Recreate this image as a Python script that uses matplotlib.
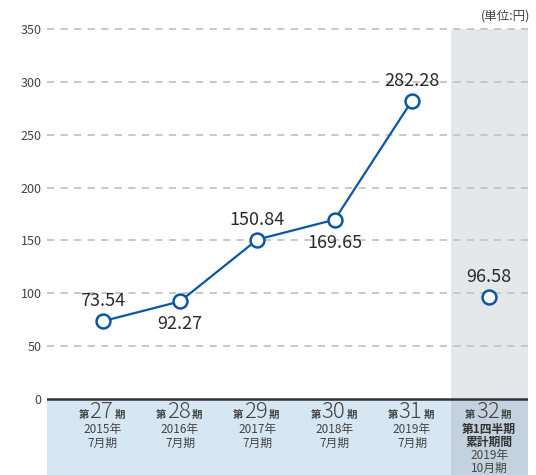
import matplotlib
matplotlib.use('Agg')
import matplotlib.pyplot as plt

plt.rcParams['font.family'] = ['Noto Sans CJK JP', 'DejaVu Sans']

# データ
periods = ['27', '28', '29', '30', '31', '32']
sub_labels = [['2015年', '7月期'], ['2016年', '7月期'], ['2017年', '7月期'],
              ['2018年', '7月期'], ['2019年', '7月期']]
last_bold = ['第1四半期', '累計期間']
last_sub = ['2019年', '10月期']
values = [73.54, 92.27, 150.84, 169.65, 282.28]
q_value = 96.58
label_above = [True, False, True, False, True]
yticks = [0, 50, 100, 150, 200, 250, 300, 350]

BLUE = '#0a57a4'
TXT = '#2a2a2a'
GREY = '#444444'
PT = 0.72  # px -> pt

fig = plt.figure(figsize=(5.36, 4.75), dpi=100)
ax = fig.add_axes([47 / 536, 0, 481 / 536, (475 - 27) / 475])
ymin, ymax = -72, 352
ax.set_ylim(ymin, ymax)
ax.set_xlim(-0.72, 5.5)

# 背景の帯
ax.fill_between([4.5, 5.5], 0, 350, color='#e6e7e9', zorder=0, lw=0)
ax.fill_between([-0.72, 4.5], ymin, 0, color='#d6e6f3', zorder=0, lw=0)
ax.fill_between([4.5, 5.5], ymin, 0, color='#c3d2de', zorder=0, lw=0)

# グリッド
for y in yticks[1:]:
    ax.axhline(y, color='#c4c4c4', lw=1.3, dashes=(4, 3.5), zorder=1)
ax.axhline(0, color='#333333', lw=1.8, zorder=3)

for s in ax.spines.values():
    s.set_visible(False)
ax.set_xticks([])
ax.set_yticks(yticks)
ax.tick_params(axis='y', length=0, pad=4, labelsize=9, labelcolor=GREY)

# 折れ線
xs = list(range(len(values)))
ax.plot(xs, values, color=BLUE, lw=1.6, marker='o', ms=10,
        mfc='white', mec=BLUE, mew=1.8, zorder=4)
ax.plot([5], [q_value], ls='none', marker='o', ms=10,
        mfc='white', mec=BLUE, mew=1.8, zorder=4)

for x, v, up in zip(xs, values, label_above):
    off = 20 * PT if up else -23 * PT
    ax.annotate(f'{v:.2f}', (x, v), xytext=(0, off), textcoords='offset points',
                ha='center', va='center', fontsize=13, color=TXT)
ax.annotate(f'{q_value:.2f}', (5, q_value), xytext=(0, 20 * PT), textcoords='offset points',
            ha='center', va='center', fontsize=13, color=TXT)

# 下部ラベル
base = -19 * PT
for i, p in enumerate(periods):
    ax.annotate(p, (i, 0), xytext=(-1, base), textcoords='offset points',
                ha='center', va='baseline', fontsize=16, color=GREY, fontweight='light')
    ax.annotate('第', (i, 0), xytext=(-10, base), textcoords='offset points',
                ha='right', va='baseline', fontsize=7.5, color=GREY, fontweight='bold')
    ax.annotate('期', (i, 0), xytext=(8.5, base), textcoords='offset points',
                ha='left', va='baseline', fontsize=7.5, color=GREY, fontweight='bold')

rows = [-31, -44, -57, -69]
for i, lines in enumerate(sub_labels):
    for r, s in zip(rows, lines):
        ax.annotate(s, (i, 0), xytext=(0, r * PT), textcoords='offset points',
                    ha='center', va='center', fontsize=8.5, color=GREY)
for r, s in zip(rows, last_bold + last_sub):
    bold = s in last_bold
    ax.annotate(s, (5, 0), xytext=(0, r * PT), textcoords='offset points',
                ha='center', va='center', fontsize=8.5,
                color='#333333' if bold else GREY,
                fontweight='bold' if bold else 'normal')

fig.text(530 / 536, 1 - 16 / 475, '(単位:円)', ha='right', va='center',
         fontsize=9, color=GREY)

fig.savefig('out.png', dpi=100)
